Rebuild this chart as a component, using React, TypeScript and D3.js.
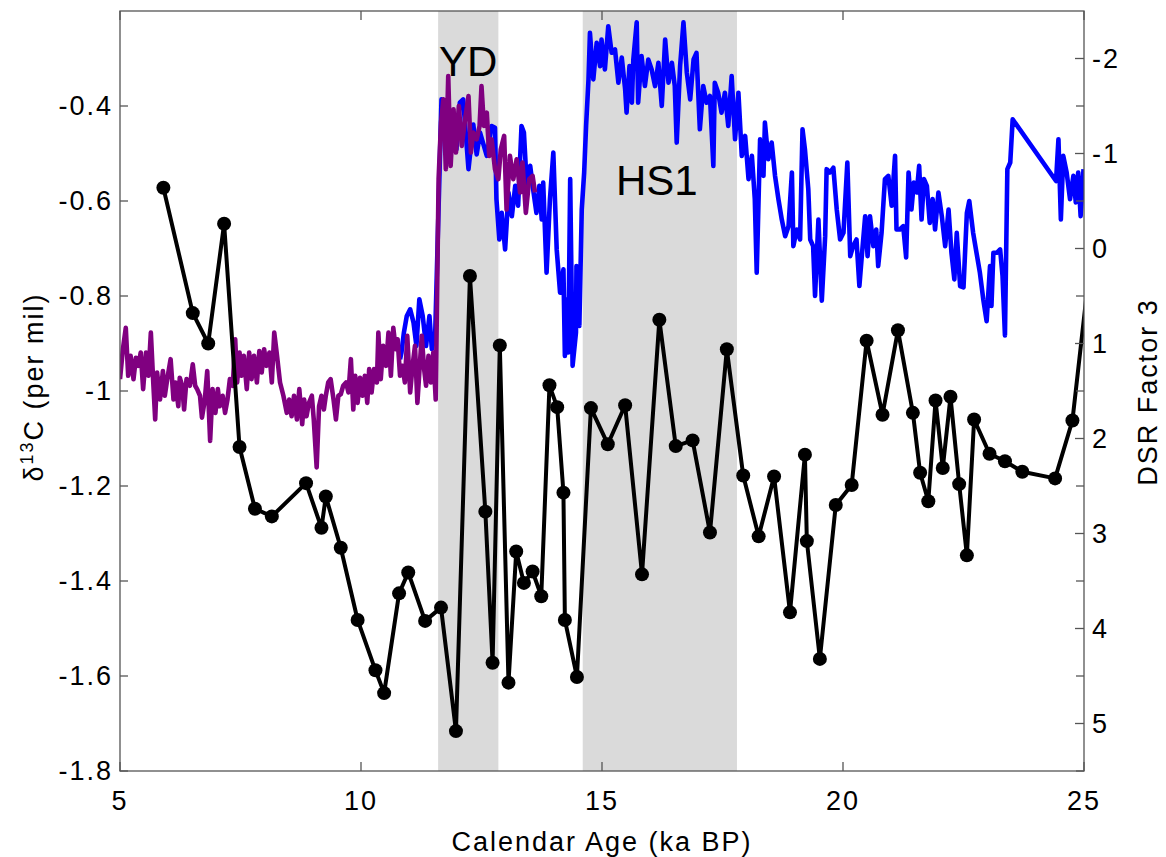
import React from 'react'
import * as d3 from 'd3'

// black series: DSR factor 3 (right axis, reversed)
const dsrAge = [
  5.90, 6.51, 6.83, 7.16, 7.48, 7.80, 8.15, 8.86, 9.18, 9.27, 9.58, 9.93, 10.30, 10.48,
  10.79, 10.98, 11.33, 11.66, 11.97, 12.26, 12.58, 12.73, 12.88, 13.06, 13.22, 13.38,
  13.56, 13.74, 13.91, 14.07, 14.20, 14.23, 14.48, 14.77, 15.12, 15.48, 15.83, 16.19,
  16.53, 16.88, 17.24, 17.59, 17.93, 18.25, 18.57, 18.90, 19.21, 19.25, 19.52, 19.85,
  20.18, 20.49, 20.82, 21.14, 21.45, 21.60, 21.77, 21.92, 22.07, 22.23, 22.41, 22.57,
  22.72, 23.04, 23.36, 23.72, 24.40, 24.76, 25.20
]
const dsrFactor = [
  -0.64, 0.68, 1.00, -0.26, 2.09, 2.74, 2.82, 2.47, 2.94, 2.61, 3.15, 3.91, 4.44, 4.68,
  3.63, 3.41, 3.92, 3.78, 5.08, 0.29, 2.77, 4.36, 1.02, 4.57, 3.19, 3.52,
  3.40, 3.66, 1.44, 1.67, 2.57, 3.91, 4.51, 1.68, 2.06, 1.65, 3.43, 0.75,
  2.08, 2.02, 2.99, 1.06, 2.39, 3.03, 2.40, 3.83, 2.17, 3.08, 4.32, 2.70,
  2.49, 0.97, 1.75, 0.86, 1.73, 2.36, 2.66, 1.60, 2.31, 1.56, 2.48, 3.23,
  1.80, 2.16, 2.24, 2.35, 2.42, 1.81, -0.17
]

// blue series: d13C (left axis)
const blueAge = [
  10.81, 10.84, 10.89, 10.95, 11.02, 11.09, 11.15, 11.21, 11.28, 11.35, 11.42, 11.47, 11.54,
  11.67, 11.78, 11.88, 11.98, 12.05, 12.12, 12.23, 12.33, 12.40, 12.47, 12.61, 12.71, 12.78,
  12.81, 12.87, 12.92, 12.99, 13.06, 13.13, 13.20, 13.26, 13.33, 13.38, 13.44, 13.51, 13.58,
  13.64, 13.70, 13.75, 13.78, 13.85, 13.92, 13.99, 14.06, 14.13, 14.20, 14.23, 14.27, 14.30,
  14.34, 14.39, 14.46, 14.47, 14.53, 14.58, 14.63, 14.67, 14.72, 14.75, 14.82, 14.89, 14.96,
  14.99, 15.06, 15.13, 15.20, 15.27, 15.34, 15.41, 15.48, 15.51, 15.57, 15.62, 15.65, 15.72,
  15.75, 15.82, 15.89, 15.96, 16.03, 16.10, 16.17, 16.24, 16.31, 16.38, 16.45, 16.51, 16.55,
  16.62, 16.69, 16.76, 16.83, 16.90, 16.96, 17.03, 17.10, 17.17, 17.24, 17.31, 17.34, 17.41,
  17.48, 17.55, 17.62, 17.69, 17.76, 17.83, 17.90, 17.97, 18.04, 18.11, 18.17, 18.21, 18.28,
  18.35, 18.38, 18.45, 18.52, 18.59, 18.66, 18.73, 18.80, 18.87, 18.94, 18.97, 19.04, 19.11,
  19.16, 19.21, 19.28, 19.32, 19.38, 19.42, 19.49, 19.56, 19.63, 19.66, 19.73, 19.80, 19.87,
  19.94, 20.01, 20.09, 20.15, 20.21, 20.28, 20.34, 20.39, 20.46, 20.51, 20.56, 20.63, 20.69,
  20.73, 20.80, 20.87, 20.94, 21.01, 21.08, 21.11, 21.18, 21.25, 21.31, 21.36, 21.42, 21.47,
  21.53, 21.58, 21.63, 21.68, 21.74, 21.80, 21.86, 21.91, 21.98, 22.05, 22.12, 22.19, 22.25,
  22.31, 22.36, 22.43, 22.50, 22.57, 22.62, 22.70, 22.77, 22.84, 22.91, 22.98, 23.05, 23.08,
  23.12, 23.19, 23.26, 23.31, 23.36, 23.41, 23.47, 23.52, 24.42, 24.47, 24.52, 24.57, 24.64,
  24.71, 24.78, 24.83, 24.88, 24.93, 24.99
]
const blueD13C = [
  -0.933, -0.919, -0.877, -0.842, -0.828, -0.856, -0.905, -0.807, -0.842, -0.905, -0.842, -0.912, -0.877,
  -0.386, -0.400, -0.463, -0.491, -0.393, -0.386, -0.533, -0.439, -0.502, -0.456, -0.505, -0.442, -0.446,
  -0.596, -0.681, -0.625, -0.702, -0.582, -0.632, -0.568, -0.610, -0.442, -0.456, -0.568, -0.526, -0.582,
  -0.625, -0.568, -0.639, -0.561, -0.751, -0.596, -0.498, -0.702, -0.793, -0.744, -0.926, -0.807, -0.919,
  -0.554, -0.947, -0.877, -0.737, -0.863, -0.618, -0.540, -0.442, -0.344, -0.246, -0.344, -0.267, -0.316,
  -0.260, -0.323, -0.232, -0.288, -0.281, -0.351, -0.298, -0.365, -0.414, -0.316, -0.393, -0.302, -0.224,
  -0.393, -0.295, -0.358, -0.302, -0.323, -0.358, -0.309, -0.400, -0.260, -0.351, -0.309, -0.358, -0.477,
  -0.316, -0.224, -0.330, -0.386, -0.302, -0.288, -0.449, -0.358, -0.393, -0.379, -0.526, -0.351, -0.372,
  -0.414, -0.372, -0.442, -0.337, -0.470, -0.372, -0.505, -0.463, -0.554, -0.505, -0.596, -0.751, -0.470,
  -0.547, -0.435, -0.512, -0.477, -0.547, -0.596, -0.639, -0.674, -0.653, -0.540, -0.695, -0.660, -0.681,
  -0.449, -0.491, -0.575, -0.681, -0.695, -0.800, -0.639, -0.810, -0.674, -0.533, -0.540, -0.530, -0.618,
  -0.681, -0.667, -0.519, -0.716, -0.695, -0.681, -0.779, -0.716, -0.632, -0.716, -0.632, -0.695, -0.660,
  -0.737, -0.667, -0.554, -0.547, -0.610, -0.505, -0.660, -0.660, -0.653, -0.719, -0.540, -0.618, -0.561,
  -0.582, -0.526, -0.639, -0.554, -0.568, -0.646, -0.596, -0.660, -0.582, -0.632, -0.695, -0.618, -0.709,
  -0.765, -0.667, -0.779, -0.782, -0.625, -0.600, -0.667, -0.709, -0.751, -0.807, -0.853, -0.737, -0.821,
  -0.709, -0.709, -0.702, -0.758, -0.883, -0.533, -0.519, -0.428, -0.558, -0.470, -0.639, -0.505, -0.540,
  -0.596, -0.547, -0.603, -0.540, -0.632, -0.533
]

// purple series: d13C (left axis)
const purpleAge = [
  5.00, 5.06, 5.12, 5.17, 5.22, 5.28, 5.33, 5.38, 5.43, 5.48, 5.54, 5.59, 5.64, 5.69, 5.73,
  5.77, 5.83, 5.89, 5.93, 5.98, 6.05, 6.11, 6.15, 6.21, 6.24, 6.29, 6.33, 6.38, 6.45, 6.51,
  6.56, 6.60, 6.66, 6.70, 6.76, 6.81, 6.87, 6.92, 6.98, 7.03, 7.07, 7.13, 7.18, 7.23, 7.28,
  7.34, 7.39, 7.43, 7.48, 7.52, 7.57, 7.63, 7.68, 7.73, 7.78, 7.84, 7.89, 7.94, 7.99, 8.04,
  8.10, 8.15, 8.20, 8.25, 8.32, 8.39, 8.46, 8.51, 8.56, 8.61, 8.67, 8.72, 8.78, 8.82, 8.87,
  8.92, 8.98, 9.02, 9.08, 9.13, 9.18, 9.23, 9.27, 9.32, 9.37, 9.43, 9.48, 9.53, 9.58, 9.63,
  9.69, 9.74, 9.79, 9.84, 9.88, 9.93, 9.98, 10.03, 10.08, 10.13, 10.17, 10.22, 10.27, 10.33,
  10.36, 10.41, 10.46, 10.52, 10.57, 10.62, 10.67, 10.72, 10.76, 10.81, 10.86, 10.91, 10.96,
  11.02, 11.07, 11.12, 11.17, 11.21, 11.26, 11.31, 11.35, 11.40, 11.45, 11.50, 11.55,
  11.61, 11.66, 11.71, 11.76, 11.81, 11.86, 11.92, 11.97, 12.03, 12.09, 12.16, 12.23, 12.28,
  12.33, 12.40, 12.46, 12.50, 12.55, 12.61, 12.66, 12.71, 12.78, 12.85, 12.90, 12.97, 13.02,
  13.09, 13.16, 13.23, 13.30, 13.35, 13.42, 13.49, 13.56, 13.61
]
const purpleD13C = [
  -0.975, -0.912, -0.867, -0.968, -0.926, -0.975, -0.930, -0.947, -0.919, -0.996, -0.919, -0.968, -0.877, -0.982, -1.060,
  -0.961, -1.018, -0.958, -1.010, -0.975, -0.933, -1.018, -0.982, -1.032, -0.972, -0.989, -1.039, -0.975, -0.989, -0.944,
  -0.989, -0.996, -1.010, -1.056, -1.018, -0.958, -1.105, -0.996, -1.046, -0.996, -1.032, -1.010, -1.046, -1.018, -0.975,
  -0.989, -0.891, -0.982, -0.919, -0.968, -0.926, -0.996, -0.919, -0.975, -0.926, -0.982, -0.916, -0.961, -0.912, -0.947,
  -0.919, -0.982, -0.877, -0.919, -0.982, -1.010, -1.046, -1.018, -1.053, -1.010, -1.060, -0.996, -1.070, -1.018, -1.053,
  -1.025, -1.010, -1.060, -1.161, -1.032, -1.010, -1.039, -1.010, -0.982, -0.975, -1.018, -1.060, -1.010, -1.007, -0.989,
  -0.982, -1.003, -0.933, -1.039, -0.968, -1.025, -0.972, -1.010, -0.968, -1.025, -0.954, -1.003, -0.954, -0.982,
  -0.877, -0.975, -0.905, -0.947, -0.877, -0.968, -0.867, -0.912, -0.891, -0.968, -0.947, -0.982, -0.884,
  -1.003, -0.947, -0.905, -1.025, -0.961, -0.884, -0.954, -0.989, -0.926, -0.982, -0.919, -1.018,
  -0.554, -0.435, -0.386, -0.533, -0.337, -0.526, -0.407, -0.498, -0.400, -0.484, -0.428, -0.379, -0.498,
  -0.456, -0.470, -0.442, -0.358, -0.442, -0.414, -0.505, -0.470, -0.533, -0.554, -0.491, -0.463, -0.618,
  -0.505, -0.554, -0.512, -0.582, -0.519, -0.625, -0.554, -0.547, -0.582
]

const periods = ['YD', 'HS1']
const periodStart = [11.6, 14.6]
const periodEnd = [12.85, 17.8]

const xTicks = [5, 10, 15, 20, 25]
const leftTicks = [-1.8, -1.6, -1.4, -1.2, -1, -0.8, -0.6, -0.4]
const rightTicks = [-2, -1, 0, 1, 2, 3, 4, 5]

const W = 1166
const H = 857
const left = 120
const right = 1084
const top = 11
const bottom = 771
const font = 'Liberation Sans, Arial, Helvetica, sans-serif'

export default function App () {
  const x = d3.scaleLinear().domain([5, 25]).range([left, right])
  const yL = d3.scaleLinear().domain([-1.8, -0.2]).range([bottom, top])
  const yR = d3.scaleLinear().domain([5.5, -2.5]).range([bottom, top])

  const lineL = d3.line<[number, number]>().x(d => x(d[0])).y(d => yL(d[1]))
  const lineR = d3.line<[number, number]>().x(d => x(d[0])).y(d => yR(d[1]))

  const blue = blueAge.map((a, i) => [a, blueD13C[i]] as [number, number])
  const purple = purpleAge.map((a, i) => [a, purpleD13C[i]] as [number, number])
  const dsr = dsrAge.map((a, i) => [a, dsrFactor[i]] as [number, number])
  const labelY = [76, 195]
  const axis = '#555'
  const tickLen = 9

  return <svg width={W} height={H} style={{ position: 'absolute', left: 0, top: 0, background: '#fff' }}
    fontFamily={font}>
    <defs>
      <clipPath id='plot'>
        <rect x={left} y={top} width={right - left} height={bottom - top} />
      </clipPath>
    </defs>
    <g>
      {periods.map((p, i) => <rect key={p} x={x(periodStart[i])} y={top}
        width={x(periodEnd[i]) - x(periodStart[i])} height={bottom - top} fill='#dadada' />)}
    </g>
    {periods.map((p, i) => <text key={p} x={x((periodStart[i] + periodEnd[i]) / 2) - (i ? 3 : 0)} y={labelY[i]}
      fontSize='42' textAnchor='middle' fill='#000'>{p}</text>)}
    <g clipPath='url(#plot)' fill='none' strokeLinejoin='round'>
      <path d={lineL(blue) || ''} stroke='#0000ff' strokeWidth='4.6' />
      <path d={lineL(purple) || ''} stroke='#800080' strokeWidth='4.6' />
      <path d={lineR(dsr) || ''} stroke='#000' strokeWidth='4' />
      {dsr.map((d, i) => <circle key={i} cx={x(d[0])} cy={yR(d[1])} r='7' fill='#000' />)}
    </g>
    {/* box */}
    <rect x={left} y={top} width={right - left} height={bottom - top} fill='none' stroke={axis} strokeWidth='1.3' />
    {/* x ticks */}
    {xTicks.map(v => <g key={v}>
      <line x1={x(v)} x2={x(v)} y1={bottom} y2={bottom - tickLen} stroke={axis} strokeWidth='1.3' />
      <line x1={x(v)} x2={x(v)} y1={top} y2={top + tickLen} stroke={axis} strokeWidth='1.3' />
      <text x={x(v)} y={810} textAnchor='middle' fontSize='27' letterSpacing='2'>{v}</text>
    </g>)}
    {/* left ticks, mirrored on the right */}
    {leftTicks.map(v => <g key={v}>
      <line x1={left} x2={left + 8} y1={yL(v)} y2={yL(v)} stroke={axis} strokeWidth='1.3' />
      <line x1={right} x2={right - 8} y1={yL(v)} y2={yL(v)} stroke={axis} strokeWidth='1.3' />
      <text x={left - 7} y={yL(v) + 2} textAnchor='end' dominantBaseline='middle' fontSize='27' letterSpacing='2'>{v}</text>
    </g>)}
    {/* right ticks */}
    {rightTicks.map(v => <g key={v}>
      <line x1={right} x2={right - tickLen} y1={yR(v)} y2={yR(v)} stroke={axis} strokeWidth='1.3' />
      <text x={right + 8} y={yR(v) + 2} dominantBaseline='middle' fontSize='27' letterSpacing='2'>{v}</text>
    </g>)}
    <text x={(left + right) / 2} y={851} textAnchor='middle' fontSize='27' letterSpacing='2'>Calendar Age (ka BP)</text>
    <text transform={`translate(43,${(top + bottom) / 2 - 4}) rotate(-90)`} textAnchor='middle' fontSize='27' letterSpacing='2'>
      δ<tspan fontSize='18' dy='-10'>13</tspan><tspan dy='10'>C (per mil)</tspan>
    </text>
    <text transform={`translate(1157,${(top + bottom) / 2 + 1}) rotate(-90)`} textAnchor='middle' fontSize='27' letterSpacing='2'>DSR Factor 3</text>
  </svg>
}
